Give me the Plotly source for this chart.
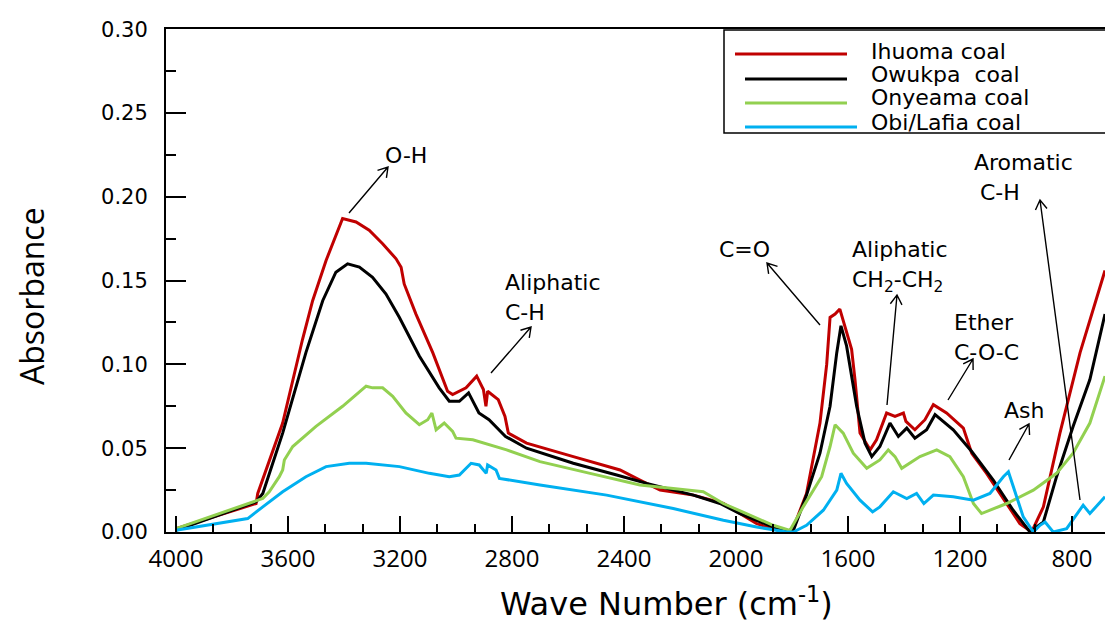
import math
import plotly.graph_objects as go

# ---------------- data ----------------
ihuoma_wn = [4000, 3714, 3708, 3619, 3548, 3512, 3464, 3405, 3357, 3310, 3262, 3214, 3196, 3185,
             3143, 3083, 3030, 3012, 2964, 2926, 2917, 2902, 2893, 2887, 2849, 2825, 2813, 2748,
             2581, 2414, 2343, 2271, 2152, 2045, 1926, 1831, 1801, 1748, 1700, 1676, 1664, 1646,
             1629, 1617, 1587, 1575, 1557, 1521, 1498, 1462, 1432, 1402, 1393, 1361, 1325, 1295,
             1248, 1188, 1158, 1105, 1033, 986, 944, 902, 843, 771, 682]
ihuoma_abs = [0.002, 0.017, 0.023, 0.065, 0.115, 0.138, 0.162, 0.187, 0.185, 0.180, 0.172, 0.163, 0.158, 0.148,
              0.130, 0.107, 0.084, 0.082, 0.086, 0.093, 0.090, 0.085, 0.075, 0.084, 0.079, 0.069, 0.059, 0.053,
              0.045, 0.037, 0.031, 0.025, 0.022, 0.017, 0.005, 0.000, 0.000, 0.023, 0.065, 0.100, 0.128, 0.130,
              0.133, 0.126, 0.109, 0.091, 0.059, 0.049, 0.055, 0.071, 0.069, 0.071, 0.066, 0.061, 0.067, 0.076,
              0.071, 0.062, 0.047, 0.035, 0.017, 0.005, 0.000, 0.015, 0.059, 0.107, 0.156]

owukpa_wn = [4000, 3714, 3690, 3619, 3536, 3476, 3429, 3387, 3345, 3298, 3250, 3202, 3131, 3060,
             3024, 2988, 2955, 2918, 2882, 2823, 2748, 2581, 2426, 2319, 2152, 2057, 1986, 1867,
             1807, 1795, 1748, 1700, 1664, 1640, 1625, 1605, 1569, 1539, 1515, 1486, 1450, 1420,
             1390, 1361, 1319, 1289, 1224, 1158, 1081, 1010, 950, 902, 855, 796, 736, 682]
owukpa_abs = [0.001, 0.018, 0.023, 0.059, 0.107, 0.138, 0.155, 0.160, 0.158, 0.152, 0.142, 0.128, 0.105, 0.086,
              0.078, 0.078, 0.083, 0.071, 0.067, 0.057, 0.050, 0.041, 0.034, 0.029, 0.022, 0.017, 0.011, 0.003,
              0.000, 0.001, 0.022, 0.047, 0.075, 0.107, 0.123, 0.111, 0.075, 0.053, 0.045, 0.051, 0.065, 0.057,
              0.062, 0.056, 0.061, 0.070, 0.061, 0.048, 0.031, 0.013, 0.000, 0.006, 0.033, 0.063, 0.091, 0.130]

onyeama_wn = [4000, 3690, 3667, 3631, 3619, 3613, 3583, 3500, 3405, 3321, 3298, 3262, 3226, 3179,
              3131, 3101, 3086, 3071, 3042, 3012, 3000, 2940, 2819, 2700, 2521, 2343, 2224, 2117,
              2045, 1867, 1807, 1760, 1694, 1664, 1646, 1617, 1581, 1533, 1486, 1456, 1432, 1408,
              1343, 1283, 1236, 1188, 1152, 1123, 1033, 938, 855, 796, 736, 682]
onyeama_abs = [0.002, 0.020, 0.024, 0.033, 0.037, 0.043, 0.051, 0.063, 0.075, 0.087, 0.086, 0.086, 0.081, 0.071,
               0.064, 0.067, 0.071, 0.061, 0.065, 0.060, 0.056, 0.055, 0.049, 0.042, 0.035, 0.028, 0.026, 0.024,
               0.017, 0.004, 0.001, 0.015, 0.033, 0.051, 0.064, 0.059, 0.047, 0.038, 0.043, 0.049, 0.045, 0.038,
               0.045, 0.049, 0.045, 0.033, 0.017, 0.011, 0.017, 0.025, 0.035, 0.047, 0.065, 0.093]

obilafia_wn = [4000, 3744, 3690, 3619, 3536, 3464, 3381, 3321, 3202, 3095, 3024, 2988, 2946, 2917,
               2892, 2887, 2857, 2845, 2700, 2462, 2224, 2045, 1926, 1819, 1795, 1748, 1688, 1640,
               1625, 1605, 1557, 1512, 1486, 1438, 1390, 1355, 1329, 1295, 1224, 1152, 1093, 1045,
               1027, 1010, 974, 938, 914, 896, 867, 819, 760, 736, 682]
obilafia_abs = [0.001, 0.008, 0.015, 0.024, 0.033, 0.039, 0.041, 0.041, 0.039, 0.035, 0.033, 0.034, 0.041, 0.040,
                0.035, 0.040, 0.037, 0.032, 0.028, 0.022, 0.014, 0.007, 0.003, 0.000, 0.000, 0.004, 0.013, 0.025,
                0.035, 0.029, 0.019, 0.012, 0.015, 0.024, 0.020, 0.023, 0.017, 0.022, 0.021, 0.019, 0.023, 0.033,
                0.036, 0.027, 0.009, 0.000, 0.004, 0.006, 0.000, 0.002, 0.016, 0.011, 0.021]

series_names = ["Ihuoma coal", "Owukpa\u00a0 coal", "Onyeama coal", "Obi/Lafia coal"]
series_colors = ["#C00000", "#000000", "#92D050", "#00B0F0"]
x_tick_vals = [4000, 3600, 3200, 2800, 2400, 2000, 1600, 1200, 800]
y_tick_vals = [0.00, 0.05, 0.10, 0.15, 0.20, 0.25, 0.30]

# ---------------- layout geometry (pixels) ----------------
W, H = 1105, 624
L, R, T, B = 166, 0, 29, 92
PW, PH = W - L - R, H - T - B


def px(x):
    return (x - L) / PW


def py(y):
    return (H - B - y) / PH


fig = go.Figure()
all_wn = [ihuoma_wn, owukpa_wn, onyeama_wn, obilafia_wn]
all_abs = [ihuoma_abs, owukpa_abs, onyeama_abs, obilafia_abs]
for name, col, xs, ys in zip(series_names, series_colors, all_wn, all_abs):
    fig.add_trace(go.Scatter(x=xs, y=ys, mode="lines", name=name,
                             line=dict(color=col, width=3), showlegend=False))

TXT = dict(family="DejaVu Sans", size=22, color="black")

annotations = []
shapes = []

# legend box (manual)
shapes.append(dict(type="rect", xref="paper", yref="paper", x0=px(724), x1=px(1112),
                   y0=py(133), y1=py(30), line=dict(color="black", width=1.5), fillcolor="white",
                   layer="above"))
leg_lines = [(735, 847, 54), (745, 847, 79), (745, 847, 103), (745, 857, 127)]
leg_text_y = [51, 75, 98, 122]
for (x0, x1, yy), ty, name, col in zip(leg_lines, leg_text_y, series_names, series_colors):
    shapes.append(dict(type="line", xref="paper", yref="paper", x0=px(x0), x1=px(x1),
                       y0=py(yy), y1=py(yy), line=dict(color=col, width=3), layer="above"))
    annotations.append(dict(text=name, xref="paper", yref="paper", x=px(869), y=py(ty),
                            xanchor="left", yanchor="middle", showarrow=False, font=TXT))

# band labels
labels = [
    ("O-H", 406, 155, "center"),
    ("Aliphatic", 503, 282, "left"), ("C-H", 503, 312, "left"),
    ("C=O", 717, 250, "left"),
    ("Aliphatic", 850, 250, "left"), ("CH<sub>2</sub>-CH<sub>2</sub>", 850, 281, "left"),
    ("Ether", 952, 322, "left"), ("C-O-C", 952, 352, "left"),
    ("Ash", 1002, 410, "left"),
    ("Aromatic", 972, 163, "left"), ("C-H", 978, 192, "left"),
]
for t, x, y, anc in labels:
    annotations.append(dict(text=t, xref="paper", yref="paper", x=px(x), y=py(y),
                            xanchor=anc, yanchor="middle", showarrow=False, font=TXT))

# arrows drawn as open-headed line paths: (head_x, head_y, tail_x, tail_y)
arrows = [
    (388, 167, 349, 213),
    (531, 327, 491, 373),
    (767, 263, 820, 325),
    (897, 295, 887, 405),
    (973, 359, 948, 400),
    (1029, 424, 1009, 460),
    (1040, 200, 1080, 500),
]
HEAD_LEN, HEAD_ANG = 11, math.radians(32)
for hx, hy, tx, ty in arrows:
    ang = math.atan2(ty - hy, tx - hx)
    b1 = (hx + HEAD_LEN * math.cos(ang + HEAD_ANG), hy + HEAD_LEN * math.sin(ang + HEAD_ANG))
    b2 = (hx + HEAD_LEN * math.cos(ang - HEAD_ANG), hy + HEAD_LEN * math.sin(ang - HEAD_ANG))
    path = (f"M{px(tx)},{py(ty)} L{px(hx)},{py(hy)} "
            f"M{px(b1[0])},{py(b1[1])} L{px(hx)},{py(hy)} L{px(b2[0])},{py(b2[1])}")
    shapes.append(dict(type="path", xref="paper", yref="paper", path=path,
                       line=dict(color="black", width=1.4), layer="above"))

# axis titles
annotations.append(dict(text="Absorbance", xref="paper", yref="paper", x=px(31), y=py(296),
                        xanchor="center", yanchor="middle", textangle=-90, showarrow=False,
                        font=dict(family="Open Sans", size=32, color="black")))
annotations.append(dict(text="Wave Number (cm<sup>-1</sup>)", xref="paper", yref="paper",
                        x=px(666), y=py(602), xanchor="center", yanchor="middle", showarrow=False,
                        font=dict(family="DejaVu Sans", size=32, color="black")))

fig.update_layout(
    width=W, height=H,
    margin=dict(l=L, r=R, t=T, b=B, pad=0),
    paper_bgcolor="white", plot_bgcolor="white",
    annotations=annotations, shapes=shapes,
    showlegend=False,
)

fig.update_xaxes(
    range=[4035.7, 682], showgrid=False, zeroline=False,
    showline=True, linecolor="black", linewidth=2, mirror=True,
    tickmode="array", tickvals=x_tick_vals, ticktext=[str(v) for v in x_tick_vals],
    ticks="inside", ticklen=16, tickwidth=1.5, tickcolor="black",
    tickfont=dict(family="Open Sans", size=24, color="black"),
    ticklabelstandoff=4,
    minor=dict(ticks="inside", ticklen=8, tickwidth=1.5, tickcolor="black",
               dtick=400 / 3, tick0=4000, showgrid=False),
)
fig.update_yaxes(
    range=[0, 0.3001], showgrid=False, zeroline=False,
    showline=True, linecolor="black", linewidth=2, mirror=False,
    tickmode="array", tickvals=y_tick_vals, ticktext=[f"{v:.2f}" for v in y_tick_vals],
    ticks="inside", ticklen=20, tickwidth=1.5, tickcolor="black",
    tickfont=dict(family="DejaVu Sans", size=21, color="black"),
    ticklabelstandoff=12,
    minor=dict(ticks="inside", ticklen=10, tickwidth=1.5, tickcolor="black",
               dtick=0.025, tick0=0, showgrid=False),
)

fig.write_html("out.html", config={"displayModeBar": False},
               post_script="document.body.style.margin='0';")
